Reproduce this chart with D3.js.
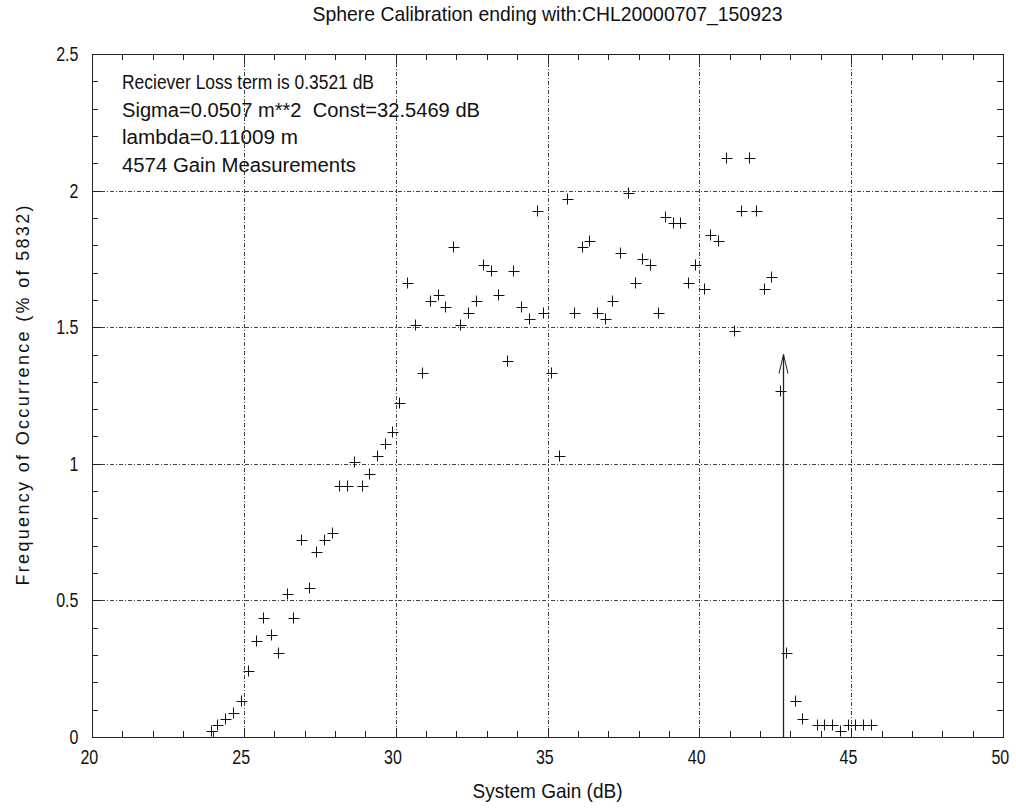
<!DOCTYPE html>
<html><head><meta charset="utf-8">
<script src="https://cdn.jsdelivr.net/npm/d3@7"></script>
<style>
html,body{margin:0;padding:0;background:#fff;}
text{font-family:'Liberation Sans',Arial,sans-serif;fill:#111;}
</style></head>
<body>
<svg id="chart" width="1016" height="808"></svg>
<script>
const title = "Sphere Calibration ending with:CHL20000707_150923";
const xLabel = "System Gain (dB)";
const yLabel = "Frequency of Occurrence (% of 5832)";
const notes = ["Reciever Loss term is 0.3521 dB",
  "Sigma=0.0507 m**2  Const=32.5469 dB",
  "lambda=0.11009 m",
  "4574 Gain Measurements"];
const xTicks = [20, 25, 30, 35, 40, 45, 50];
const yTicks = [0, 0.5, 1, 1.5, 2, 2.5];
const yTickLabels = ["0", "0.5", "1", "1.5", "2", "2.5"];
const gain = [23.92,24.10,24.38,24.63,24.91,25.13,25.40,25.62,25.88,26.12,26.41,26.63,26.88,27.13,27.39,27.63,27.89,28.12,28.39,28.62,28.89,29.13,29.37,29.64,29.88,30.12,30.38,30.65,30.88,31.13,31.38,31.63,31.88,32.13,32.38,32.63,32.89,33.14,33.38,33.65,33.87,34.14,34.38,34.64,34.86,35.12,35.37,35.64,35.87,36.13,36.37,36.64,36.88,37.14,37.39,37.65,37.87,38.12,38.37,38.64,38.88,39.12,39.37,39.64,39.87,40.14,40.36,40.63,40.87,41.13,41.38,41.63,41.86,42.13,42.37,42.64,42.87,43.14,43.37,43.86,44.11,44.37,44.63,44.88,45.13,45.39,45.64];
const freq = [0.022,0.044,0.066,0.087,0.131,0.240,0.350,0.437,0.372,0.306,0.525,0.437,0.720,0.547,0.678,0.720,0.745,0.918,0.918,1.005,0.918,0.962,1.027,1.071,1.115,1.224,1.661,1.508,1.333,1.596,1.618,1.574,1.792,1.508,1.552,1.596,1.727,1.705,1.618,1.377,1.705,1.574,1.530,1.924,1.552,1.333,1.027,1.968,1.552,1.792,1.815,1.552,1.530,1.596,1.771,1.990,1.661,1.749,1.727,1.552,1.902,1.880,1.880,1.661,1.727,1.640,1.836,1.815,2.120,1.486,1.924,2.120,1.924,1.640,1.683,1.268,0.306,0.131,0.066,0.044,0.044,0.044,0.022,0.044,0.044,0.044,0.044];
const arrowX = 42.75, arrowTop = 1.40;

const L = 92, R = 1003, T = 54, B = 737;
const SX = 0.8; // horizontal squeeze to mimic the narrow plot font
const svg = d3.select("#chart");
const x = d3.scaleLinear().domain([20, 50]).range([L, R]);
const y = d3.scaleLinear().domain([0, 2.5]).range([B, T]);
const px = v => Math.round(x(v)) + 0.5;
const py = v => Math.round(y(v)) + 0.5;

function fitText(xp, yp, s, size, width, anchor) {
  return svg.append("text").attr("x", xp).attr("y", yp).attr("text-anchor", anchor || "start")
    .attr("font-size", size).attr("textLength", width).attr("lengthAdjust", "spacingAndGlyphs")
    .attr("xml:space", "preserve").text(s);
}

// grid
const g = svg.append("g").attr("stroke", "#444").attr("stroke-width", 1).attr("stroke-dasharray", "4,2,1,2").attr("fill", "none");
xTicks.slice(1, -1).forEach(v => g.append("line").attr("x1", px(v)).attr("x2", px(v)).attr("y1", T).attr("y2", B));
yTicks.slice(1, -1).forEach(v => g.append("line").attr("y1", py(v)).attr("y2", py(v)).attr("x1", L).attr("x2", R));

// minor/major ticks (mirrored)
const tk = svg.append("g").attr("stroke", "#222").attr("stroke-width", 1);
d3.range(21, 50).forEach(v => {
  const len = (v % 5 === 0) ? 9 : 6;
  tk.append("line").attr("x1", px(v)).attr("x2", px(v)).attr("y1", B).attr("y2", B - len);
  tk.append("line").attr("x1", px(v)).attr("x2", px(v)).attr("y1", T).attr("y2", T + len);
});
d3.range(1, 25).forEach(i => {
  const v = i / 10;
  const len = (i % 5 === 0) ? 9 : 6;
  tk.append("line").attr("y1", py(v)).attr("y2", py(v)).attr("x1", L).attr("x2", L + len);
  tk.append("line").attr("y1", py(v)).attr("y2", py(v)).attr("x1", R).attr("x2", R - len);
});

// frame
svg.append("rect").attr("x", L + 0.5).attr("y", T + 0.5).attr("width", R - L).attr("height", B - T)
  .attr("fill", "none").attr("stroke", "#222").attr("stroke-width", 1);

// axis labels via d3 axes
const xa = svg.append("g").attr("transform", `translate(0,${B})`)
  .call(d3.axisBottom(x).tickValues(xTicks).tickSize(0).tickPadding(13).tickFormat(d3.format("d")));
xa.select(".domain").remove();
xa.selectAll("text").attr("font-size", 20).attr("fill", "#111").attr("x", -4).attr("transform", `scale(${SX},1)`);
const ya = svg.append("g").attr("transform", `translate(${L},0)`)
  .call(d3.axisLeft(y).tickValues(yTicks).tickSize(0).tickPadding(17).tickFormat((d, i) => yTickLabels[i]));
ya.select(".domain").remove();
ya.selectAll("text").attr("font-size", 20).attr("fill", "#111").attr("transform", `scale(${SX},1)`);

// points
svg.append("g").selectAll("path").data(gain.map((d, i) => [d, freq[i]])).join("path")
  .attr("d", d => `M${px(d[0]) - 5},${py(d[1])}H${px(d[0]) + 6}M${px(d[0])},${py(d[1]) - 6}V${py(d[1]) + 5}`)
  .attr("stroke", "#111").attr("stroke-width", 1).attr("fill", "none");

// arrow
const ax = px(arrowX), at = y(arrowTop);
svg.append("line").attr("x1", ax).attr("x2", ax).attr("y1", B).attr("y2", at).attr("stroke", "#222").attr("stroke-width", 1.3);
svg.append("path").attr("d", `M${ax - 4.5},${at + 19}L${ax},${at}L${ax + 4.5},${at + 19}`)
  .attr("stroke", "#222").attr("stroke-width", 1).attr("fill", "none");

// texts
fitText((L + R) / 2, 21, title, 21, 470, "middle");
fitText((L + R) / 2, 798, xLabel, 21, 150, "middle");
svg.append("text").attr("transform", `translate(29,${(T + B) / 2}) rotate(-90)`).attr("text-anchor", "middle")
  .attr("font-size", 18).attr("textLength", 380).attr("lengthAdjust", "spacing").text(yLabel);
const noteWidths = [252, 358, 176, 234];
notes.forEach((s, i) => fitText(122, 89 + i * 27.6, s, 19.5, noteWidths[i]));
</script>
</body></html>
